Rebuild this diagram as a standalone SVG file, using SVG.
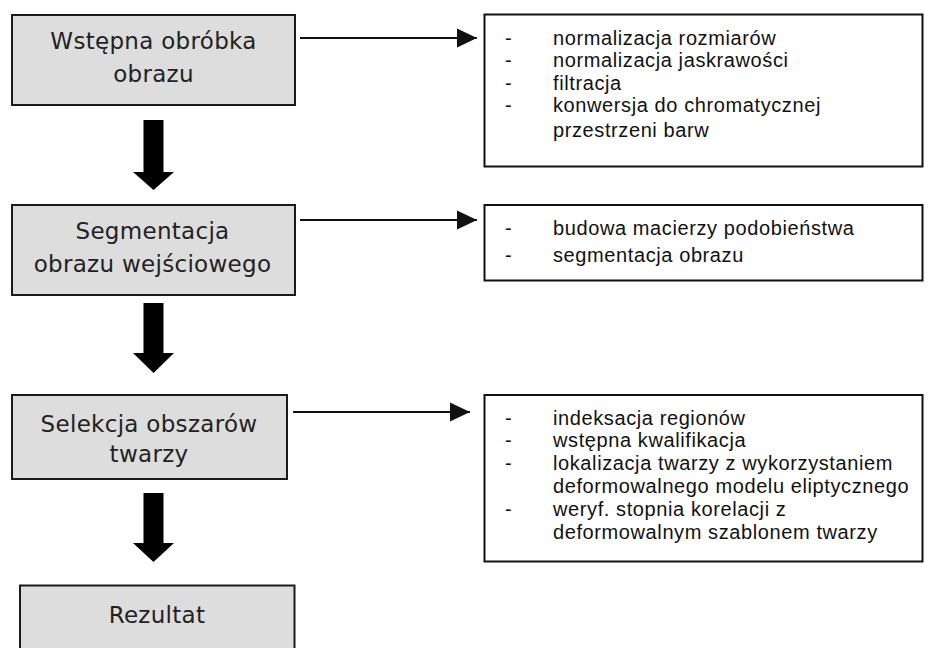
<svg xmlns="http://www.w3.org/2000/svg" width="928" height="648" viewBox="0 0 928 648">
  <style>
    .step rect { fill: #dddddd; stroke: #1a1a1a; stroke-width: 2; }
    .step text { font-family: "DejaVu Sans", Verdana, sans-serif; font-size: 23px; letter-spacing: 0.3px; fill: #222222; text-anchor: middle; }
    .notes rect { fill: #ffffff; stroke: #111111; stroke-width: 2; }
    .notes text { font-family: "Liberation Sans", Arial, sans-serif; font-size: 20px; letter-spacing: 0.6px; fill: #111111; }
    .link { stroke: #111111; stroke-width: 2; fill: none; marker-end: url(#head); }
    .flow { fill: #000000; }
  </style>
  <defs>
    <!-- filled triangular head for the side links -->
    <marker id="head" markerUnits="userSpaceOnUse" markerWidth="22" markerHeight="22" refX="20" refY="11" orient="auto">
      <path d="M0,1.5 L20,11 L0,20.5 Z" fill="#111111"/>
    </marker>
  </defs>

  <rect width="928" height="648" fill="#ffffff"/>

  <!-- connectors -->
  <g id="connectors">
    <line class="link" x1="300" y1="38" x2="477" y2="38"/>
    <line class="link" x1="300" y1="220" x2="477" y2="220"/>
    <line class="link" x1="293" y1="412" x2="470" y2="412"/>
    <polygon class="flow" points="143.5,120 163.5,120 163.5,172 174,172 153.5,190 133,172 143.5,172"/>
    <polygon class="flow" points="143.5,303 163.5,303 163.5,353 174,353 153.5,373 133,353 143.5,353"/>
    <polygon class="flow" points="143.5,493 163.5,493 163.5,543 174,543 153.5,562 133,543 143.5,543"/>
  </g>

  <!-- processing steps -->
  <g id="step-preprocessing" class="step">
    <rect x="12" y="15" width="283" height="90"/>
    <text x="153.5" y="49">Wstępna obróbka</text>
    <text x="153.5" y="82">obrazu</text>
  </g>
  <g id="step-segmentation" class="step">
    <rect x="12" y="205" width="283" height="90"/>
    <text x="152.5" y="239">Segmentacja</text>
    <text x="152.5" y="272">obrazu wejściowego</text>
  </g>
  <g id="step-selection" class="step">
    <rect x="12" y="395" width="275" height="84"/>
    <text x="149" y="432">Selekcja obszarów</text>
    <text x="149" y="462">twarzy</text>
  </g>
  <g id="step-result" class="step">
    <rect x="20" y="585.5" width="274.5" height="100"/>
    <text x="157" y="623">Rezultat</text>
  </g>

  <!-- detail lists -->
  <g id="notes-preprocessing" class="notes">
    <rect x="484.5" y="14.5" width="438" height="152"/>
    <text x="505" y="45">-</text>
    <text x="553" y="45">normalizacja rozmiarów</text>
    <text x="505" y="67">-</text>
    <text x="553" y="67">normalizacja jaskrawości</text>
    <text x="505" y="89.5">-</text>
    <text x="553" y="89.5">filtracja</text>
    <text x="505" y="112">-</text>
    <text x="553" y="112">konwersja do chromatycznej</text>
    <text x="553" y="137">przestrzeni barw</text>
  </g>
  <g id="notes-segmentation" class="notes">
    <rect x="484.5" y="205" width="438" height="75.5"/>
    <text x="505" y="234.5">-</text>
    <text x="553" y="234.5">budowa macierzy podobieństwa</text>
    <text x="505" y="261.5">-</text>
    <text x="553" y="261.5">segmentacja obrazu</text>
  </g>
  <g id="notes-selection" class="notes">
    <rect x="484.5" y="395" width="438" height="166.5"/>
    <text x="505" y="424.5">-</text>
    <text x="553" y="424.5">indeksacja regionów</text>
    <text x="505" y="447.3">-</text>
    <text x="553" y="447.3">wstępna kwalifikacja</text>
    <text x="505" y="470">-</text>
    <text x="553" y="470">lokalizacja twarzy z wykorzystaniem</text>
    <text x="553" y="492.9">deformowalnego modelu eliptycznego</text>
    <text x="505" y="515.7">-</text>
    <text x="553" y="515.7">weryf. stopnia korelacji z</text>
    <text x="553" y="538.5">deformowalnym szablonem twarzy</text>
  </g>
</svg>
